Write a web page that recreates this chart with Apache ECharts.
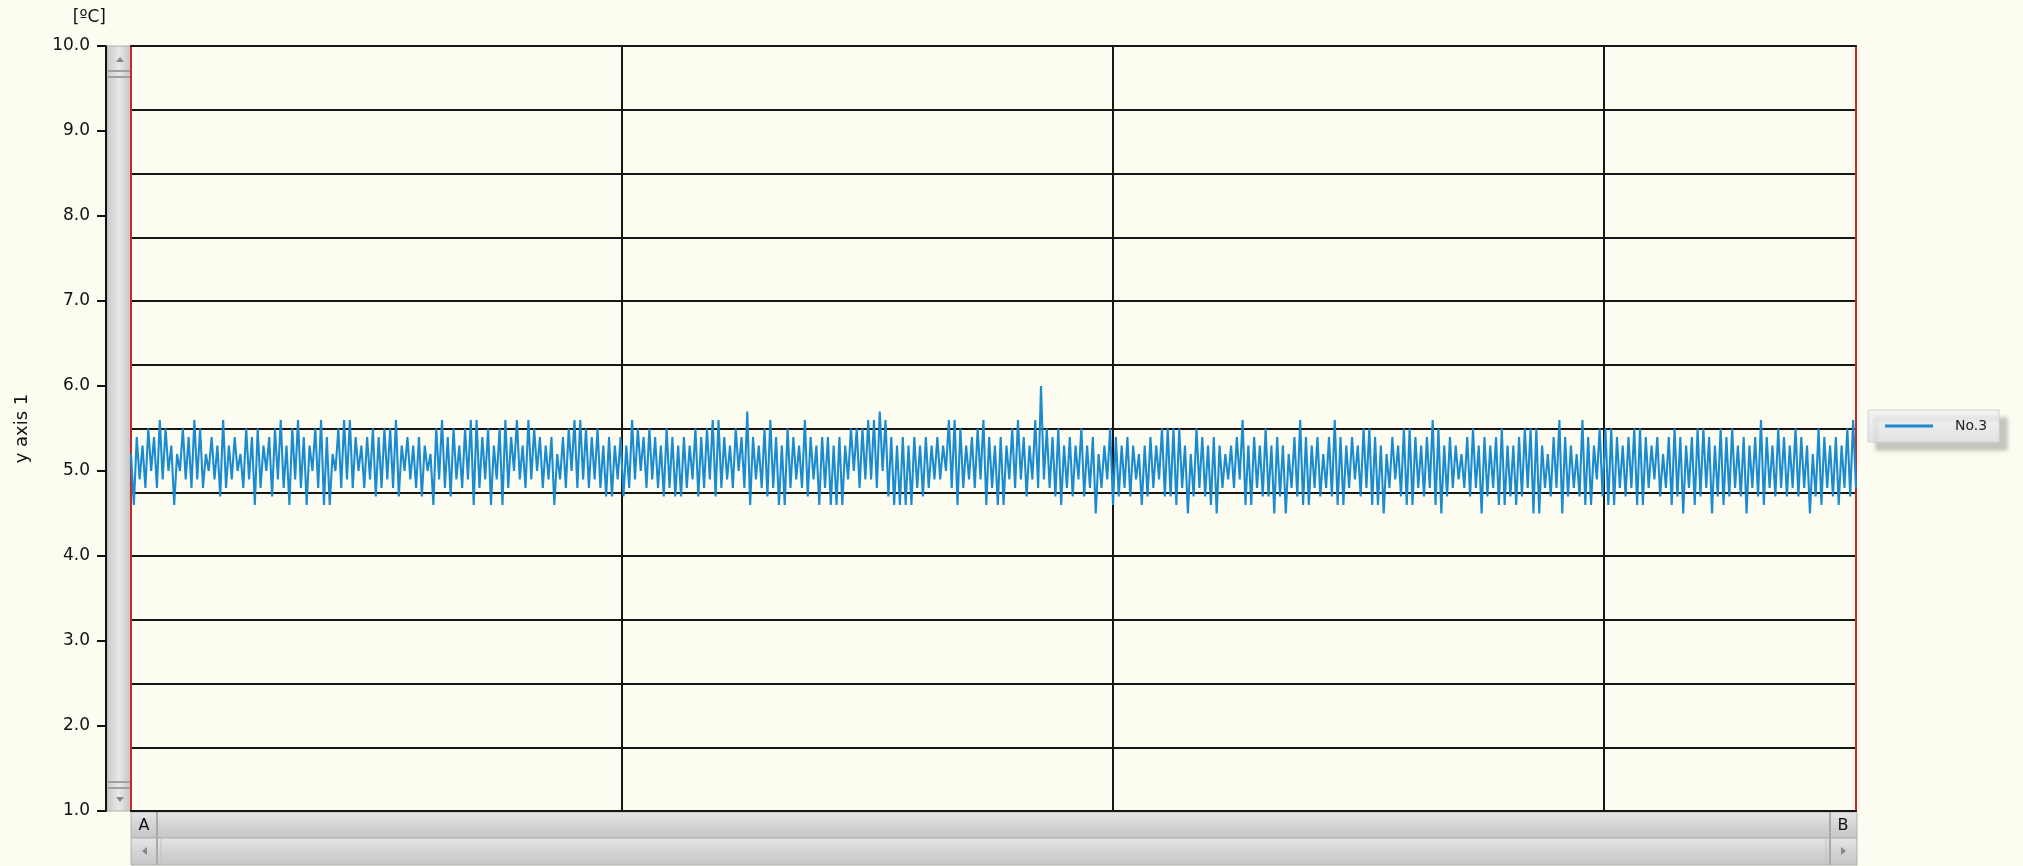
<!DOCTYPE html>
<html>
<head>
<meta charset="utf-8">
<script src="https://cdn.jsdelivr.net/npm/echarts@6/dist/echarts.min.js"></script>
<style>
html,body{margin:0;padding:0;background:#fcfcf1;}
#chart{width:2023px;height:866px;}
</style>
</head>
<body>
<div id="chart"></div>
<script>
// ---- data (0.1 °C resolution) ----
const seriesName = 'No.3';
const yAxisName = 'y axis 1';
const yUnit = '[ºC]';
const scrollLabels = ['A', 'B'];

const seg1 = [5.2,4.6,5.4,4.9,5.3,4.8,5.5,5.0,5.4,4.8,5.6,4.9,5.5,5.0,5.3,4.6,5.2,5.0,5.5,4.9,
5.4,4.8,5.6,4.9,5.5,4.8,5.2,5.0,5.4,4.9,5.3,4.7,5.6,4.8,5.3,4.9,5.4,5.0,5.2,4.8,
5.5,4.9,5.4,4.6,5.5,4.8,5.3,5.0,5.4,4.7,5.5,4.9,5.6,4.8,5.3,4.6,5.5,4.9,5.6,4.8,
5.4,4.6,5.3,5.0,5.5,4.8,5.6,4.6,5.4,4.6,5.2,5.0,5.5,4.8,5.6,4.9,5.6,4.8,5.4,5.0,
5.3,4.8,5.4,4.9,5.5,4.7,5.4,4.8,5.5,4.9,5.5,4.8,5.6,4.7,5.3,5.0,5.4,4.9,5.3,4.8,
5.4,4.7,5.3,5.0,5.2,4.6,5.5,4.9,5.6,4.8,5.4,4.7,5.5,4.9,5.3,4.8,5.5,4.9,5.6,4.6];
const seg2 = [5.6,4.8,5.4,4.9,5.5,4.6,5.3,4.9,5.5,4.6,5.6,4.8,5.4,5.0,5.6,4.9,5.3,4.8,5.6,4.9,
5.5,5.0,5.4,4.8,5.3,4.9,5.4,4.6,5.2,4.9,5.4,4.8,5.5,5.0,5.6,4.8,5.6,4.9,5.5,4.8,
5.4,4.9,5.5,4.8,5.3,4.7,5.4,4.7,5.3,4.9,5.4,4.7,5.3,4.8,5.6,4.9,5.5,5.0,5.4,4.8,
5.5,4.9,5.4,4.8,5.3,4.7,5.5,4.8,5.4,4.7,5.3,4.7,5.4,4.8,5.3,4.9,5.5,4.7,5.4,4.8,
5.5,4.9,5.6,4.7,5.6,4.8,5.4,4.9,5.3,4.8,5.5,5.0,5.4,4.8,5.7,4.6,5.4,4.9,5.3,4.8,
5.5,4.7,5.6,4.8,5.4,4.6,5.3,4.6,5.5,4.8,5.4,4.9,5.3,4.8,5.6,4.7,5.4,4.9,5.3,4.6];
const seg3 = [5.4,4.8,5.4,4.6,5.3,4.6,5.4,4.6,5.3,4.9,5.5,5.0,5.5,4.8,5.5,4.9,5.6,4.9,5.6,4.8,
5.7,5.0,5.6,4.7,5.4,4.6,5.3,4.6,5.4,4.6,5.3,4.6,5.4,4.8,5.3,4.7,5.4,4.8,5.3,4.9,
5.4,4.9,5.3,5.0,5.6,4.8,5.6,4.6,5.5,4.8,5.3,4.9,5.4,4.8,5.5,4.9,5.6,4.6,5.4,4.8,
5.3,4.6,5.4,4.6,5.3,4.9,5.5,4.8,5.6,4.9,5.4,4.7,5.3,4.9,5.6,4.8,6.0,4.9,5.5,4.8,
5.4,4.7,5.5,4.6,5.3,4.8,5.4,4.7,5.3,4.9,5.5,4.7,5.3,4.8,5.4,4.5,5.2,4.8,5.3,4.9,
5.5,4.6,5.4,4.7,5.3,4.8,5.4,4.7,5.3,4.9,5.2,4.6,5.3,4.7,5.4,4.8,5.3,4.9,5.5,4.7];
const seg4 = [5.5,4.7,5.5,4.6,5.5,4.8,5.3,4.5,5.2,4.7,5.5,4.8,5.4,4.7,5.3,4.6,5.4,4.5,5.3,4.8,
5.2,4.9,5.3,4.8,5.4,4.9,5.6,4.6,5.3,4.6,5.4,4.8,5.3,4.7,5.5,4.7,5.3,4.5,5.4,4.7,
5.3,4.5,5.2,4.8,5.4,4.7,5.6,4.6,5.4,4.6,5.3,4.8,5.4,4.7,5.2,4.8,5.4,4.7,5.6,4.6,
5.4,4.6,5.3,4.8,5.4,4.9,5.3,4.7,5.5,4.8,5.5,4.6,5.4,4.6,5.3,4.5,5.2,4.8,5.4,4.9,
5.3,4.7,5.5,4.6,5.5,4.6,5.4,4.8,5.3,4.7,5.4,4.8,5.6,4.6,5.5,4.5,5.3,4.7,5.4,4.8,
5.3,4.9,5.2,4.8,5.4,4.7,5.5,4.8,5.3,4.5,5.4,4.7,5.3,4.8,5.4,4.6,5.5,4.6,5.3,4.7];
const seg5 = [5.3,4.6,5.4,4.7,5.5,4.8,5.5,4.5,5.5,4.5,5.3,4.8,5.2,4.7,5.4,4.8,5.6,4.5,5.4,4.7,
5.3,4.8,5.2,4.7,5.6,4.6,5.4,4.6,5.3,4.9,5.5,4.7,5.5,4.6,5.5,4.6,5.4,4.8,5.3,4.7,
5.4,4.8,5.5,4.6,5.5,4.6,5.4,4.8,5.3,4.9,5.4,4.7,5.2,4.8,5.4,4.6,5.5,4.7,5.4,4.5,
5.3,4.8,5.4,4.6,5.5,4.7,5.5,4.8,5.4,4.5,5.3,4.7,5.5,4.6,5.4,4.7,5.5,4.8,5.3,4.7,
5.4,4.5,5.3,4.8,5.4,4.7,5.6,4.6,5.4,4.8,5.3,4.7,5.5,4.8,5.4,4.7,5.3,4.8,5.5,4.7,
5.4,4.8,5.3,4.5,5.2,4.7,5.5,4.6,5.4,4.8,5.3,4.7,5.4,4.6,5.3,4.8,5.5,4.7,5.6,4.8];

const values = [].concat(seg1, seg2, seg3, seg4, seg5);
const samples = values.map((_, i) => String(i));

// axis settings
const yMin = 1, yMax = 10, yStep = 1;
const gridDivisions = 12;          // horizontal grid lines every 0.75 °C
const xGridMax = 3.515, xGridStep = 1;

// ---- chart ----
const chart = echarts.init(document.getElementById('chart'), null, {renderer: 'canvas'});
const FONT = 'DejaVu Sans';
const GRIDC = '#161616';
const RED = '#c42a2a';

const scrollGradV = new echarts.graphic.LinearGradient(0, 0, 1, 0, [
  {offset: 0, color: '#c9c9c9'}, {offset: 0.5, color: '#e8e8e8'}, {offset: 1, color: '#c2c2c2'}]);
const scrollGradH = () => new echarts.graphic.LinearGradient(0, 0, 0, 1, [
  {offset: 0, color: '#e6e6e6'}, {offset: 0.5, color: '#d4d4d4'}, {offset: 1, color: '#c6c6c6'}]);

const option = {
  backgroundColor: '#fcfcf1',
  animation: false,
  grid: {left: 131, right: 167, top: 46, bottom: 55, containLabel: false},
  legend: {
    left: 1868, top: 410,
    data: [seriesName],
    icon: 'rect', itemWidth: 48, itemHeight: 3,
    padding: [9, 12, 9, 17],
    backgroundColor: new echarts.graphic.LinearGradient(0, 0, 0, 1, [
      {offset: 0, color: '#f3f3f3'}, {offset: 1, color: '#e2e2e2'}]),
    borderColor: '#d2d2d2', borderWidth: 1,
    shadowColor: 'rgba(0,0,0,0.22)', shadowBlur: 4, shadowOffsetX: 8, shadowOffsetY: 8,
    textStyle: {fontFamily: FONT, fontSize: 14, color: '#222', padding: [0, 0, 0, 17]}
  },
  xAxis: [
    {type: 'category', data: samples, boundaryGap: false, show: false},
    {type: 'value', min: 0, max: xGridMax, interval: xGridStep, position: 'bottom',
     axisLine: {show: true, onZero: false, lineStyle: {color: GRIDC, width: 2}},
     axisTick: {show: false}, axisLabel: {show: false},
     splitLine: {show: true, showMinLine: false, showMaxLine: false, lineStyle: {color: GRIDC, width: 2}}},
    {type: 'value', min: 0, max: 1, position: 'top',
     axisLine: {show: true, onZero: false, lineStyle: {color: GRIDC, width: 2}},
     axisTick: {show: false}, axisLabel: {show: false}, splitLine: {show: false}}
  ],
  yAxis: [
    {type: 'value', min: yMin, max: yMax, interval: yStep, position: 'left', offset: 25,
     name: yUnit, nameLocation: 'end', nameGap: 20, nameMoveOverlap: false,
     nameTextStyle: {fontFamily: FONT, fontSize: 17, color: '#111', align: 'right'},
     axisLine: {show: true, onZero: false, lineStyle: {color: '#111', width: 2}},
     axisTick: {show: true, length: 9, lineStyle: {color: '#111', width: 2}},
     axisLabel: {fontFamily: FONT, fontSize: 17, color: '#111', margin: 16,
                 formatter: v => v.toFixed(1)},
     splitLine: {show: false}},
    {type: 'value', min: 0, max: gridDivisions, interval: 1, position: 'left', offset: 0,
     name: yAxisName, nameLocation: 'middle', nameRotate: 90, nameGap: 100,
     nameTextStyle: {fontFamily: FONT, fontSize: 18, color: '#111'},
     axisLine: {show: true, onZero: false, lineStyle: {color: RED, width: 2}},
     axisTick: {show: false}, axisLabel: {show: false},
     splitLine: {show: true, showMinLine: false, showMaxLine: false, lineStyle: {color: GRIDC, width: 2}}},
    {type: 'value', min: 0, max: 1, position: 'right', offset: 0,
     axisLine: {show: true, onZero: false, lineStyle: {color: RED, width: 2}},
     axisTick: {show: false}, axisLabel: {show: false}, splitLine: {show: false}}
  ],
  series: [{
    name: seriesName, type: 'line', xAxisIndex: 0, yAxisIndex: 0,
    data: values, symbol: 'none', smooth: false,
    lineStyle: {color: '#1b8bd0', width: 2.1},
    itemStyle: {color: '#1b8bd0'},
    z: 3
  }],
  graphic: [
    // vertical scroll bar
    {type: 'rect', shape: {x: 107, y: 46, width: 24, height: 765},
     style: {fill: scrollGradV, stroke: '#b0b0b0', lineWidth: 1}},
    {type: 'polygon', shape: {points: [[116, 62], [124, 62], [120, 57]]}, style: {fill: '#888'}},
    {type: 'polygon', shape: {points: [[116, 797], [124, 797], [120, 802]]}, style: {fill: '#888'}},
    {type: 'rect', shape: {x: 108, y: 70, width: 22, height: 2}, style: {fill: '#a0a0a0'}},
    {type: 'rect', shape: {x: 108, y: 76, width: 22, height: 2}, style: {fill: '#a0a0a0'}},
    {type: 'rect', shape: {x: 108, y: 781, width: 22, height: 2}, style: {fill: '#a0a0a0'}},
    {type: 'rect', shape: {x: 108, y: 787, width: 22, height: 2}, style: {fill: '#a0a0a0'}},
    // horizontal bar with A / B
    {type: 'rect', shape: {x: 131, y: 812, width: 1726, height: 26},
     style: {fill: scrollGradH(), stroke: '#b0b0b0', lineWidth: 1}},
    {type: 'line', shape: {x1: 157, y1: 812, x2: 157, y2: 838}, style: {stroke: '#aaa', lineWidth: 2}},
    {type: 'line', shape: {x1: 1830, y1: 812, x2: 1830, y2: 838}, style: {stroke: '#aaa', lineWidth: 2}},
    {type: 'text', x: 144, y: 826, style: {text: scrollLabels[0], font: '16px "DejaVu Sans"', fill: '#111', align: 'center', verticalAlign: 'middle'}},
    {type: 'text', x: 1843, y: 826, style: {text: scrollLabels[1], font: '16px "DejaVu Sans"', fill: '#111', align: 'center', verticalAlign: 'middle'}},
    // horizontal scroll bar
    {type: 'rect', shape: {x: 131, y: 838, width: 1726, height: 27},
     style: {fill: scrollGradH(), stroke: '#b0b0b0', lineWidth: 1}},
    {type: 'line', shape: {x1: 157, y1: 838, x2: 157, y2: 865}, style: {stroke: '#aaa', lineWidth: 2}},
    {type: 'line', shape: {x1: 161, y1: 838, x2: 161, y2: 865}, style: {stroke: '#c0c0c0', lineWidth: 1}},
    {type: 'line', shape: {x1: 1826, y1: 838, x2: 1826, y2: 865}, style: {stroke: '#c0c0c0', lineWidth: 1}},
    {type: 'line', shape: {x1: 1830, y1: 838, x2: 1830, y2: 865}, style: {stroke: '#aaa', lineWidth: 2}},
    {type: 'polygon', shape: {points: [[147, 847], [147, 855], [142, 851]]}, style: {fill: '#888'}},
    {type: 'polygon', shape: {points: [[1841, 847], [1841, 855], [1846, 851]]}, style: {fill: '#888'}}
  ]
};
chart.setOption(option);
</script>
</body>
</html>
